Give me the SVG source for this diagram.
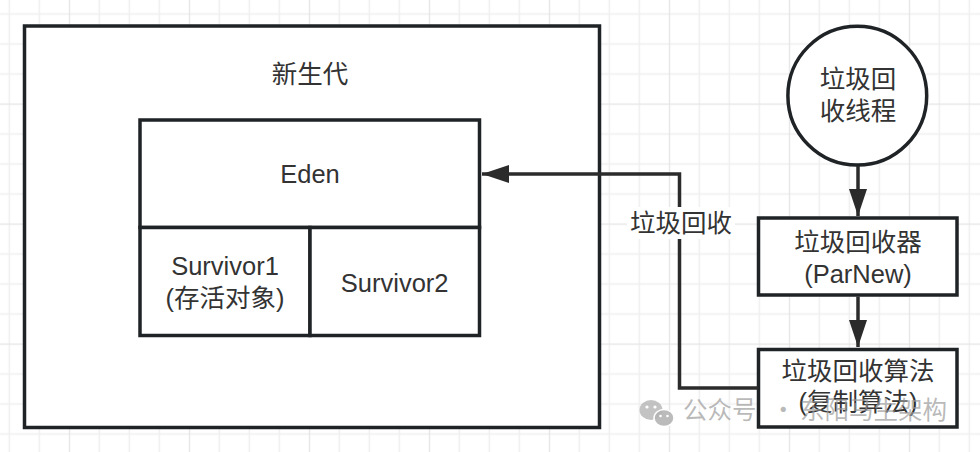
<svg xmlns="http://www.w3.org/2000/svg" width="980" height="452" viewBox="0 0 980 452">
  <defs>
    <pattern id="grid" patternUnits="userSpaceOnUse" x="-51.2" y="-16.5" width="120" height="120">
      <rect width="120" height="120" fill="#ffffff"/>
      <g stroke="#efefef" stroke-width="1.5">
        <line x1="30.5" y1="0" x2="30.5" y2="120"/>
        <line x1="60.5" y1="0" x2="60.5" y2="120"/>
        <line x1="90.5" y1="0" x2="90.5" y2="120"/>
        <line x1="0" y1="30.5" x2="120" y2="30.5"/>
        <line x1="0" y1="60.5" x2="120" y2="60.5"/>
        <line x1="0" y1="90.5" x2="120" y2="90.5"/>
      </g>
      <g stroke="#e4e4e4" stroke-width="1.5">
        <line x1="0.5" y1="0" x2="0.5" y2="120"/>
        <line x1="0" y1="0.5" x2="120" y2="0.5"/>
      </g>
    </pattern>
    <marker id="arrow" markerUnits="userSpaceOnUse" markerWidth="27" markerHeight="18" refX="27" refY="9" orient="auto">
      <path d="M0,0 L27,9 L0,18 z" fill="#2b2b2b"/>
    </marker>
  </defs>
  <style>
    .box { fill: #ffffff; stroke: #1f2326; stroke-width: 3.5; }
    .edge { fill: none; stroke: #2b2b2b; stroke-width: 3.5; }
    .t { font-family: "Liberation Sans", "Noto Sans CJK SC", sans-serif; font-size: 25.5px; fill: #333333; text-anchor: middle; }
    .wm { font-family: "Noto Sans CJK SC", sans-serif; font-size: 24.5px; fill: #9a9a9a; fill-opacity: 0.7; }
  </style>

  <rect x="0" y="0" width="980" height="452" fill="url(#grid)"/>

  <g id="young-gen">
    <rect class="box" x="24.5" y="26" width="575" height="401.5"/>
    <text class="t" x="310" y="83">新生代</text>
  </g>

  <g id="eden">
    <rect class="box" x="140" y="120" width="339.5" height="107.5"/>
    <text class="t" x="310" y="183.3">Eden</text>
  </g>

  <g id="survivor1">
    <rect class="box" x="140" y="227.5" width="170" height="108"/>
    <text class="t" x="225" y="275">Survivor1</text>
    <text class="t" x="225" y="307">(存活对象)</text>
  </g>

  <g id="survivor2">
    <rect class="box" x="310" y="227.5" width="169.5" height="108"/>
    <text class="t" x="394.7" y="291.5">Survivor2</text>
  </g>

  <g id="gc-thread">
    <circle class="box" cx="857.3" cy="95.7" r="69.4"/>
    <text class="t" x="858" y="88">垃圾回</text>
    <text class="t" x="858" y="120">收线程</text>
  </g>

  <g id="gc-collector">
    <rect class="box" x="758.5" y="218" width="198.5" height="77"/>
    <text class="t" x="858" y="251">垃圾回收器</text>
    <text class="t" x="858" y="283.3">(ParNew)</text>
  </g>

  <g id="gc-algorithm">
    <rect class="box" x="758.5" y="349.5" width="198.5" height="77.5"/>
    <text class="t" x="858" y="380">垃圾回收算法</text>
    <text class="t" x="858" y="411">(复制算法)</text>
  </g>

  <g id="connectors">
    <line class="edge" x1="858" y1="166" x2="858" y2="216" marker-end="url(#arrow)"/>
    <line class="edge" x1="858" y1="296.5" x2="858" y2="347" marker-end="url(#arrow)"/>
    <path class="edge" d="M758.5,388 H679.5 V174 H482" marker-end="url(#arrow)"/>
    <rect x="627" y="207" width="108" height="32" fill="#ffffff"/>
    <text class="t" x="681" y="232">垃圾回收</text>
  </g>

  <g id="watermark">
    <ellipse cx="651" cy="410" rx="11.5" ry="10" fill="#b4b4b4" fill-opacity="0.8"/>
    <ellipse cx="664" cy="418" rx="10" ry="8.5" fill="#b4b4b4" fill-opacity="0.9" stroke="#ffffff" stroke-width="1.5"/>
    <circle cx="647" cy="407" r="1.6" fill="#ffffff"/>
    <circle cx="655" cy="407" r="1.6" fill="#ffffff"/>
    <circle cx="660.5" cy="416" r="1.3" fill="#ffffff"/>
    <circle cx="667.5" cy="416" r="1.3" fill="#ffffff"/>
    <text class="wm" y="419"><tspan x="683">公众号</tspan><tspan x="771">·</tspan><tspan x="800">东阳马生架构</tspan></text>
  </g>
</svg>
